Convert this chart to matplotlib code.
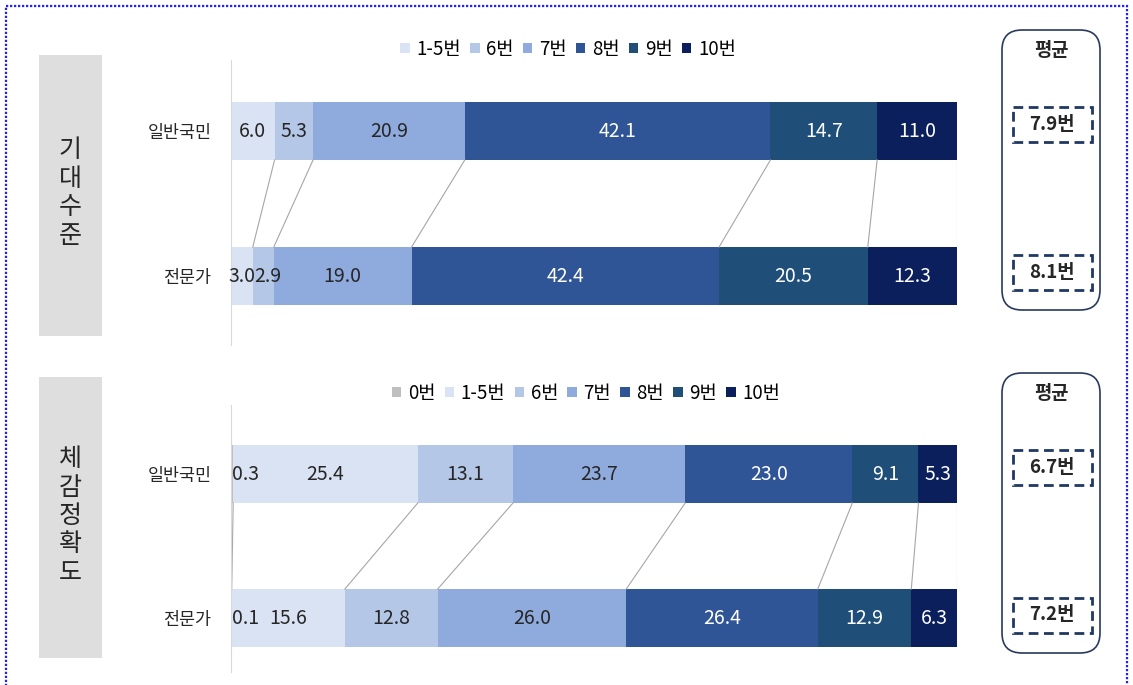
import numpy as np
import matplotlib
matplotlib.use("Agg")
import matplotlib.pyplot as plt
from matplotlib.patches import Rectangle, FancyBboxPatch

plt.rcParams['font.family'] = ['Noto Sans CJK KR', 'DejaVu Sans']

groups = ['일반국민', '전문가']

top_title = '기대수준'
top_cats = ['1-5번', '6번', '7번', '8번', '9번', '10번']
top_gen = [6.0, 5.3, 20.9, 42.1, 14.7, 11.0]
top_exp = [3.0, 2.9, 19.0, 42.4, 20.5, 12.3]
top_avg = ['7.9번', '8.1번']

bot_title = '체감정확도'
bot_cats = ['0번', '1-5번', '6번', '7번', '8번', '9번', '10번']
bot_gen = [0.3, 25.4, 13.1, 23.7, 23.0, 9.1, 5.3]
bot_exp = [0.1, 15.6, 12.8, 26.0, 26.4, 12.9, 6.3]
bot_avg = ['6.7번', '7.2번']

colors = {'0번': '#bfbfbf', '1-5번': '#dae3f3', '6번': '#b4c7e7', '7번': '#8faadc',
          '8번': '#2f5597', '9번': '#1f4e79', '10번': '#0b1f5c'}
dark_cats = ['8번', '9번', '10번']

W, H = 1133, 685
fig = plt.figure(figsize=(W / 100, H / 100), dpi=100)

# overlay axes in pixel coordinates for the decorations
deco = fig.add_axes([0, 0, 1, 1])
deco.set_xlim(0, W)
deco.set_ylim(H, 0)
deco.axis('off')

deco.add_patch(Rectangle((6, 6), 1121, 700, fill=False, ec='#1f1fff', lw=1.6, ls=(0, (1, 0.8))))


def side_box(y0, y1, title, yc):
    deco.add_patch(Rectangle((39, y0), 63, y1 - y0, fc='#dedede', ec='none'))
    deco.text(70, yc, '\n'.join(title), ha='center', va='center', fontsize=18,
              linespacing=1.12, color='#262626')


def avg_boxes(y0, y1, avg, avg_y):
    deco.add_patch(FancyBboxPatch((1002, y0), 98, y1 - y0,
                                  boxstyle='round,pad=0,rounding_size=20',
                                  fc='none', ec='#2a3a5c', lw=1.2))
    deco.text(1051, y0 + 20, '평균', ha='center', va='center', fontsize=13.5,
              fontweight='bold', color='#262626')
    for a, yy in zip(avg, avg_y):
        deco.add_patch(Rectangle((1013, yy - 17), 79, 35, fill=False, ec='#1f3864',
                                 lw=2, ls=(0, (3.5, 2))))
        deco.text(1052, yy, a, ha='center', va='center', fontsize=13.5,
                  fontweight='bold', color='#262626')


side_box(55, 336, top_title, 193)
avg_boxes(30, 310, top_avg, [124, 272])
side_box(377, 658, bot_title, 516)
avg_boxes(373, 653, bot_avg, [467, 615])


def panel(top_px, bot_px, c0, c1, cats, gen, exp, leg_xy):
    ax = fig.add_axes([231 / W, 1 - bot_px / H, 726 / W, (bot_px - top_px) / H])
    ax.patch.set_alpha(0)
    sp = c1 - c0
    h = 58 / sp
    ax.set_ylim((bot_px - c0) / sp, -(c0 - top_px) / sp)
    ax.set_xlim(0, 100)
    rows = [np.array(gen) / np.sum(gen) * 100, np.array(exp) / np.sum(exp) * 100]
    raw = [gen, exp]
    handles = []
    for j, cat in enumerate(cats):
        left = [r[:j].sum() for r in rows]
        width = [r[j] for r in rows]
        b = ax.barh([0, 1], width, left=left, height=h, color=colors[cat], lw=0)
        handles.append(b)
        tc = 'white' if cat in dark_cats else '#262626'
        for i in range(2):
            lab = f'{raw[i][j]:.1f}'
            narrow_prev = j > 0 and raw[i][j - 1] < 4
            if raw[i][j] < 1 or (raw[i][j] < 4 and narrow_prev):
                ax.text(left[i] + 0.2, i, lab, ha='left', va='center',
                        fontsize=14, color=tc)
            else:
                ax.text(left[i] + width[i] / 2, i, lab, ha='center',
                        va='center', fontsize=14, color=tc)
    cg = np.cumsum(rows[0])
    ce = np.cumsum(rows[1])
    for a, b in zip(cg, ce):
        ax.plot([a, b], [h / 2, 1 - h / 2], color='#a6a6a6', lw=0.8)
    for s in ['top', 'right', 'bottom']:
        ax.spines[s].set_visible(False)
    ax.spines['left'].set_color('#d9d9d9')
    ax.set_xticks([])
    ax.set_yticks([0, 1], groups, fontsize=12.5, color='#262626')
    ax.tick_params(axis='y', length=0, pad=14)
    fig.legend(handles, cats, loc='center', bbox_to_anchor=(leg_xy[0] / W, 1 - leg_xy[1] / H),
               ncol=len(cats), frameon=False, fontsize=13.5, handlelength=0.5,
               handleheight=0.5, handletextpad=0.35, columnspacing=0.5, borderpad=0)
    return ax


panel(60, 345, 131, 276, top_cats, top_gen, top_exp, (568, 49))
panel(405, 672, 474, 618, bot_cats, bot_gen, bot_exp, (586, 393))

fig.savefig('out.png', dpi=100)
